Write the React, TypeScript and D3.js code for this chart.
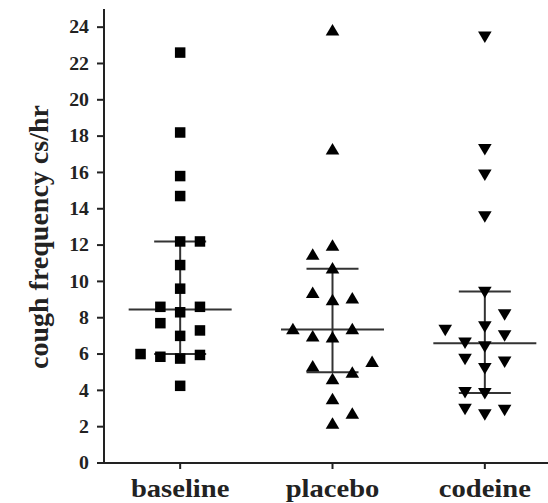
import React from "react";
import * as d3 from "d3";

const categories = ["baseline", "placebo", "codeine"];
const yTicks = [0, 2, 4, 6, 8, 10, 12, 14, 16, 18, 20, 22, 24];

// value, jitter slot
const baselineValues = [22.6, 18.2, 15.8, 14.7, 12.2, 12.2, 10.9, 9.6, 8.6, 8.3, 8.6, 7.7, 7.3, 7.0, 6.0, 5.85, 5.75, 5.95, 4.25];
const baselineSlots = [0, 0, 0, 0, 0, 1, 0, 0, -1, 0, 1, -1, 1, 0, -2, -1, 0, 1, 0];

const placeboValues = [23.75, 17.2, 11.9, 11.4, 10.65, 9.3, 8.9, 9.0, 7.3, 6.9, 6.85, 7.3, 5.5, 5.25, 4.9, 4.55, 3.45, 2.65, 2.1];
const placeboSlots = [0, 0, 0, -1, 0, -1, 0, 1, -2, -1, 0, 1, 2, -1, 1, 0, 0, 1, 0];

const codeineValues = [23.55, 17.35, 15.95, 13.65, 9.5, 8.25, 7.4, 7.6, 7.1, 6.7, 6.5, 5.8, 5.65, 5.3, 3.98, 3.92, 3.05, 2.75, 3.0];
const codeineSlots = [0, 0, 0, 0, 0, 1, -2, 0, 1, -1, 0, -1, 1, 0, -1, 0, -1, 0, 1];

const medians = [8.45, 7.35, 6.6];
const upperQuartiles = [12.2, 10.7, 9.45];
const lowerQuartiles = [6.0, 5.0, 3.85];

const W = 548;
const H = 503;
const FONT = "'Liberation Serif', 'Times New Roman', serif";

export default function App() {
  const x = d3.scalePoint<string>().domain(categories).range([104, 561]).padding(0.5);
  const y = d3.scaleLinear().domain([0, 25]).range([463, 9]);
  const slot = d3.scaleLinear().domain([-1, 1]).range([-19.8, 19.8]);

  const groups = [
    { values: baselineValues, slots: baselineSlots, shape: "square" },
    { values: placeboValues, slots: placeboSlots, shape: "up" },
    { values: codeineValues, slots: codeineSlots, shape: "down" },
  ];

  const marker = (shape: string, cx: number, cy: number, key: string) => {
    if (shape === "square") {
      const s = 10.5;
      return <rect key={key} x={cx - s / 2} y={cy - s / 2} width={s} height={s} fill="#000" />;
    }
    const hw = 6.8;
    const h = 11.5;
    const p = d3.path();
    if (shape === "up") {
      p.moveTo(cx, cy - (2 * h) / 3);
      p.lineTo(cx + hw, cy + h / 3);
      p.lineTo(cx - hw, cy + h / 3);
    } else {
      p.moveTo(cx, cy + (2 * h) / 3);
      p.lineTo(cx + hw, cy - h / 3);
      p.lineTo(cx - hw, cy - h / 3);
    }
    p.closePath();
    return <path key={key} d={p.toString()} fill="#000" />;
  };

  const medHalf = 51.5;
  const qHalf = 26;

  return (
    <svg width={W} height={H} style={{ position: "absolute", left: 0, top: 0, background: "#fff" }}>
      <rect x={0} y={0} width={W} height={H} fill="#fff" />
      {/* y axis */}
      <line x1={104} x2={104} y1={y(0)} y2={y(25)} stroke="#222" strokeWidth={2} />
      {yTicks.map((t) => (
        <g key={t}>
          <line x1={97} x2={104} y1={y(t)} y2={y(t)} stroke="#222" strokeWidth={2} />
          <g transform={`translate(89,${y(t)}) scale(1.1,1)`}>
            <text
              x={0}
              y={0}
              dy="0.35em"
              textAnchor="end"
              fontFamily={FONT}
              fontWeight="bold"
              fontSize={18}
              fill="#222"
            >
              {t}
            </text>
          </g>
        </g>
      ))}
      {/* x axis */}
      <line x1={97} x2={W} y1={y(0)} y2={y(0)} stroke="#222" strokeWidth={2} />
      {categories.map((c) => (
        <g key={c}>
          <line x1={x(c)!} x2={x(c)!} y1={y(0)} y2={y(0) + 6} stroke="#222" strokeWidth={2} />
          <g transform={`translate(${x(c)!},497) scale(1.1,1)`}>
            <text x={0} y={0} textAnchor="middle" fontFamily={FONT} fontWeight="bold" fontSize={26} fill="#222">
              {c}
            </text>
          </g>
        </g>
      ))}
      <text
        transform={`translate(48,237) rotate(-90)`}
        textAnchor="middle"
        fontFamily={FONT}
        fontWeight="bold"
        fontSize={28}
        fill="#222"
      >
        cough frequency cs/hr
      </text>
      {/* summary lines */}
      {categories.map((c, i) => {
        const cx = x(c)!;
        return (
          <g key={"s" + c} stroke="#333" strokeWidth={2}>
            <line x1={cx} x2={cx} y1={y(upperQuartiles[i])} y2={y(lowerQuartiles[i])} />
            <line x1={cx - medHalf} x2={cx + medHalf} y1={y(medians[i])} y2={y(medians[i])} />
            <line x1={cx - qHalf} x2={cx + qHalf} y1={y(upperQuartiles[i])} y2={y(upperQuartiles[i])} />
            <line x1={cx - qHalf} x2={cx + qHalf} y1={y(lowerQuartiles[i])} y2={y(lowerQuartiles[i])} />
          </g>
        );
      })}
      {/* markers */}
      {groups.map((g, gi) =>
        g.values.map((v, i) => marker(g.shape, x(categories[gi])! + slot(g.slots[i]), y(v), `m${gi}-${i}`))
      )}
    </svg>
  );
}
